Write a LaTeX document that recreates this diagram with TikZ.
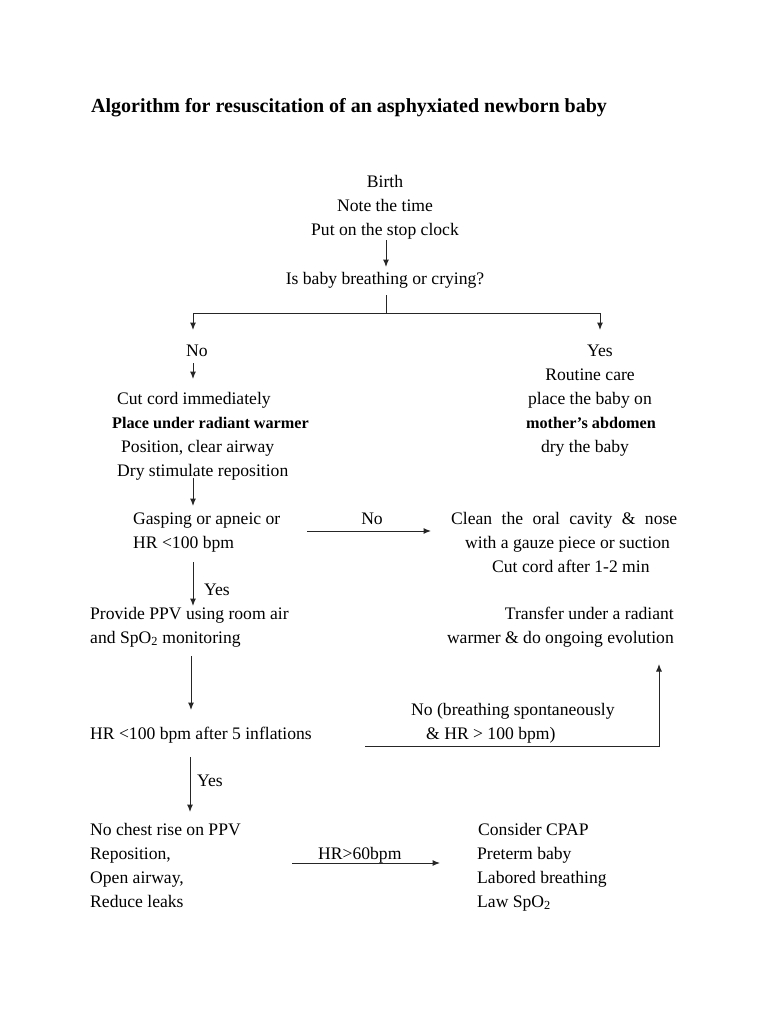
\documentclass[tikz,border=0pt]{standalone}
\usepackage{fontspec}
\setmainfont{Liberation Serif}
\usetikzlibrary{arrows.meta}
\begin{document}
\begin{tikzpicture}[x=1pt,y=-1pt,
  txt/.style={inner sep=0pt, anchor=base west, font=\fontsize{17.6}{21}\selectfont},
  ctr/.style={inner sep=0pt, anchor=base, font=\fontsize{17.6}{21}\selectfont},
  rgt/.style={inner sep=0pt, anchor=base east, font=\fontsize{17.6}{21}\selectfont},
  bld/.style={font=\bfseries\fontsize{16.2}{21}\selectfont},
  ln/.style={line width=1pt, draw=black!85},
  arr/.style={ln, -{Latex[length=7.5pt,width=6pt]}}]
\useasboundingbox (0,0) rectangle (768,1024);
\fill[white] (0,0) rectangle (768,1024);

% title
\node[txt, font=\bfseries\fontsize{20}{24}\selectfont] (title) at (91,113) {Algorithm for resuscitation of an asphyxiated newborn baby};

% start
\node[ctr] (b1) at (385,188) {Birth};
\node[ctr] (b2) at (385,212) {Note the time};
\node[ctr] (b3) at (385,236) {Put on the stop clock};
\node[ctr] (q) at (385,284) {Is baby breathing or crying?};

\node[ctr] (no1) at (197,356) {No};
\node[ctr] (yes1) at (600,356) {Yes};

% right branch
\node[ctr] (r1) at (590,380) {Routine care};
\node[ctr] (r2) at (590,404) {place the baby on};
\node[ctr, bld] (r3) at (591,428) {mother's abdomen};
\node[ctr] (r4) at (585,452) {dry the baby};

% left branch
\node[txt] (l1) at (117,404) {Cut cord immediately};
\node[txt, bld] (l2) at (112,428) {Place under radiant warmer};
\node[txt] (l3) at (121,452) {Position, clear airway};
\node[txt] (l4) at (117,476) {Dry stimulate reposition};

\node[txt] (g1) at (133,524) {Gasping or apneic or};
\node[txt] (g2) at (133,548) {HR <100 bpm};
\node[ctr] (nolbl) at (372,524) {No};

\node[txt] (c1) at (451,524) {\hbox to 226pt{Clean\hfill the\hfill oral\hfill cavity\hfill \&\hfill nose}};
\node[txt] (c2) at (465,548) {with a gauze piece or suction};
\node[txt] (c3) at (492,572) {Cut cord after 1-2 min};

\node[txt] (yeslbl) at (204,595) {Yes};
\node[txt] (p1) at (90,619) {Provide PPV using room air};
\node[txt] (p2) at (90,643) {and SpO\textsubscript{2} monitoring};
\node[rgt] (t1) at (674,619) {Transfer under a radiant};
\node[rgt] (t2) at (674,643) {warmer \& do ongoing evolution};

\node[txt] (h1) at (90,739) {HR <100 bpm after 5 inflations};
\node[txt] (n1) at (411,715) {No (breathing spontaneously};
\node[txt] (n2) at (426,739) {\& HR > 100 bpm)};

\node[txt] (yes2) at (197,786) {Yes};
\node[txt] (k1) at (90,835) {No chest rise on PPV};
\node[txt] (k2) at (90,859) {Reposition,};
\node[txt] (k3) at (90,883) {Open airway,};
\node[txt] (k4) at (90,907) {Reduce leaks};
\node[txt] (hr) at (318,859) {HR>60bpm};
\node[txt] (z1) at (478,835) {Consider CPAP};
\node[txt] (z2) at (477,859) {Preterm baby};
\node[txt] (z3) at (477,883) {Labored breathing};
\node[txt] (z4) at (477,907) {Law SpO\textsubscript{2}};

% connector coordinates
\coordinate (s1) at (386,240);
\coordinate (e1) at (386,267);
\coordinate (br0) at (386,295);
\coordinate (br1) at (386,313);
\coordinate (brL) at (193,313);
\coordinate (brR) at (600,313);
\coordinate (eL) at (193,330);
\coordinate (eR) at (600,330);
\coordinate (s2) at (193,363);
\coordinate (e2) at (193,379);
\coordinate (s3) at (193,478);
\coordinate (e3) at (193,506);
\coordinate (s4) at (307,531);
\coordinate (e4) at (431,531);
\coordinate (s5) at (193,562);
\coordinate (e5) at (193,606);
\coordinate (s6) at (191,656);
\coordinate (e6) at (191,710);
\coordinate (s7) at (365,746);
\coordinate (m7) at (659,746);
\coordinate (e7) at (659,664);
\coordinate (s8) at (190,757);
\coordinate (e8) at (190,812);
\coordinate (s9) at (292,863);
\coordinate (e9) at (440,863);

\draw[arr] (s1) -- (e1);
\draw[ln] (br0) -- (br1);
\draw[ln] (brL) -- (brR);
\draw[arr] (brL) -- (eL);
\draw[arr] (brR) -- (eR);
\draw[arr] (s2) -- (e2);
\draw[arr] (s3) -- (e3);
\draw[arr] (s4) -- (e4);
\draw[arr] (s5) -- (e5);
\draw[arr] (s6) -- (e6);
\draw[arr] (s7) -- (m7) -- (e7);
\draw[arr] (s8) -- (e8);
\draw[arr] (s9) -- (e9);
\end{tikzpicture}
\end{document}
